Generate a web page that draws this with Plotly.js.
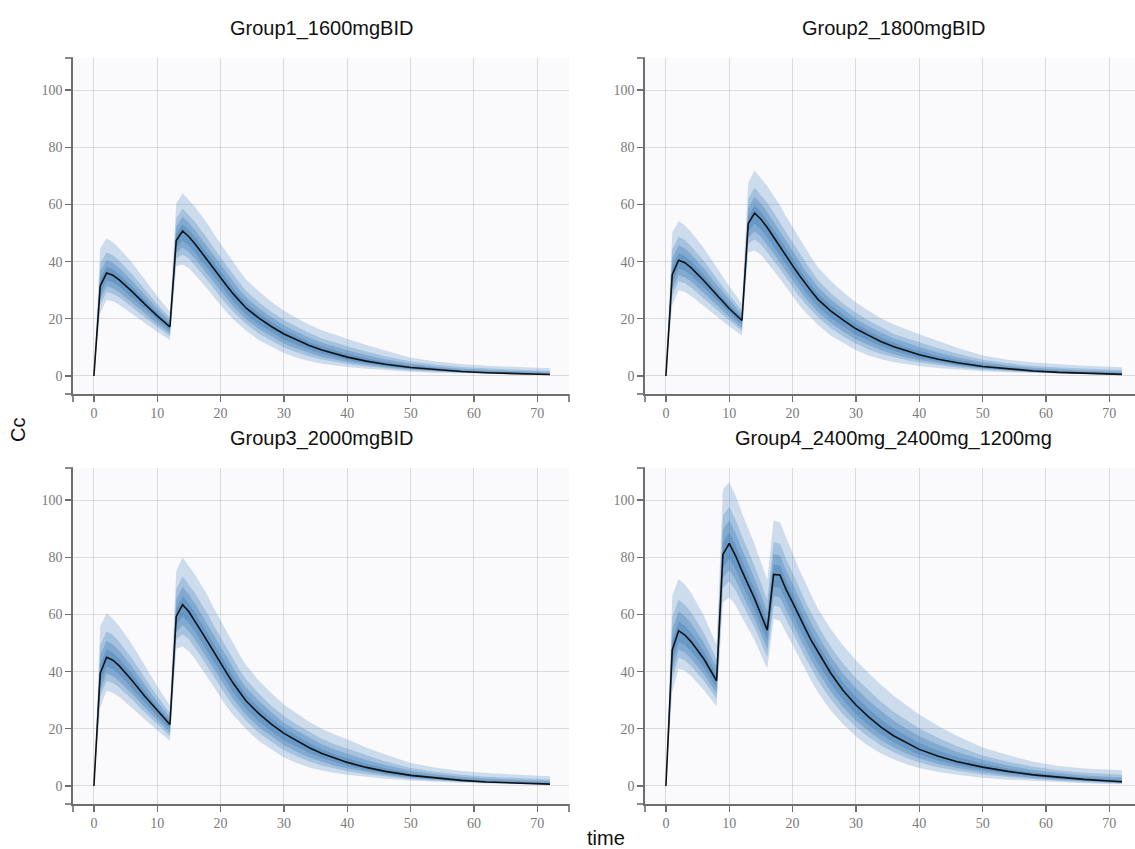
<!DOCTYPE html>
<html>
<head>
<meta charset="utf-8">
<script src="https://cdn.plot.ly/plotly-3.0.1.min.js"></script>
<style>
html,body{margin:0;padding:0;overflow:hidden;background:#fff;}
#chart{width:1142px;height:849px;}
</style>
</head>
<body>
<div id="chart"></div>
<script>
// ---- titles / ticks ----
const panelTitles = ["Group1_1600mgBID", "Group2_1800mgBID", "Group3_2000mgBID", "Group4_2400mg_2400mg_1200mg"];
const xTitle = "time";
const yTitle = "Cc";
const xTicks = [0, 10, 20, 30, 40, 50, 60, 70];
const yTicks = [0, 20, 40, 60, 80, 100];

// ---- time grids ----
const time123 = [0, 1, 2, 3, 4, 6, 8, 10, 12, 13, 14, 15, 16, 17, 18, 19, 20, 21, 22, 23, 24, 26, 28, 30, 32, 34, 36, 38, 40, 43, 46, 50, 54, 58, 62, 66, 70, 72];
const time4 = [0, 1, 2, 3, 4, 6, 8, 9, 10, 11, 12, 13, 14, 16, 17, 18, 19, 20, 21, 22, 23, 24, 25, 26, 28, 30, 32, 34, 36, 38, 40, 43, 46, 50, 54, 58, 62, 66, 70, 72];

// ---- Group 1 (lo4 = outermost lower band edge ... hi4 = outermost upper) ----
const g1_lo4 = [0, 22, 26.6, 26.1, 24.9, 21.9, 18.6, 15.5, 12.6, 38.4, 39.0, 37.7, 35.4, 32.8, 30.2, 27.5, 24.7, 22.1, 19.8, 17.8, 15.9, 12.6, 10.2, 8.0, 6.4, 5.2, 4.3, 3.6, 3.1, 2.5, 2.0, 1.5, 1.15, 0.9, 0.7, 0.52, 0.38, 0.32];
const g1_lo3 = [0, 24.9, 29.4, 28.8, 27.5, 24.2, 20.6, 17.2, 14.0, 41.1, 42.5, 41.0, 38.6, 35.9, 33.2, 30.4, 27.6, 24.9, 22.5, 20.3, 18.3, 14.9, 12.3, 10.0, 8.3, 6.85, 5.75, 4.85, 4.15, 3.3, 2.63, 1.94, 1.45, 1.10, 0.83, 0.61, 0.45, 0.38];
const g1_lo2 = [0, 26.8, 31.4, 30.7, 29.3, 25.8, 22.0, 18.3, 14.9, 43.0, 45.0, 43.3, 40.9, 38.1, 35.3, 32.4, 29.6, 26.9, 24.3, 22.1, 19.9, 16.5, 13.8, 11.4, 9.6, 8.0, 6.75, 5.7, 4.9, 3.9, 3.07, 2.25, 1.67, 1.24, 0.92, 0.68, 0.49, 0.42];
const g1_lo1 = [0, 28.8, 33.4, 32.7, 31.2, 27.4, 23.4, 19.5, 15.9, 44.9, 47.4, 45.6, 43.1, 40.2, 37.4, 34.5, 31.6, 28.9, 26.2, 23.8, 21.6, 18.1, 15.3, 12.8, 10.9, 9.2, 7.8, 6.6, 5.6, 4.45, 3.5, 2.56, 1.88, 1.38, 1.01, 0.74, 0.54, 0.46];
const g1_med = [0, 31.5, 36, 35.2, 33.6, 29.6, 25.2, 21.0, 17.2, 47.4, 50.7, 48.7, 46.1, 43.1, 40.2, 37.2, 34.3, 31.5, 28.7, 26.2, 23.8, 20.3, 17.3, 14.7, 12.6, 10.7, 9.1, 7.75, 6.6, 5.2, 4.09, 2.97, 2.16, 1.56, 1.13, 0.83, 0.6, 0.51];
const g1_hi1 = [0, 33.9, 38.2, 37.3, 35.6, 31.4, 26.7, 22.2, 18.2, 49.7, 53.1, 51.0, 48.4, 45.4, 42.5, 39.4, 36.5, 33.6, 30.7, 28.1, 25.6, 22.0, 18.9, 16.2, 14.0, 12.0, 10.3, 8.9, 7.75, 6.2, 4.94, 3.59, 2.69, 2.04, 1.57, 1.26, 1.0, 0.90];
const g1_hi2 = [0, 36.5, 40.6, 39.6, 37.8, 33.4, 28.4, 23.6, 19.2, 52.2, 55.7, 53.5, 50.9, 47.9, 45.0, 41.8, 38.8, 35.9, 32.8, 30.1, 27.6, 23.8, 20.6, 17.7, 15.5, 13.4, 11.6, 10.2, 9.0, 7.3, 5.85, 4.26, 3.26, 2.55, 2.06, 1.72, 1.44, 1.33];
const g1_hi3 = [0, 39.4, 43.3, 42.2, 40.3, 35.7, 30.4, 25.1, 20.4, 55.1, 58.6, 56.3, 53.8, 50.8, 47.9, 44.6, 41.5, 38.5, 35.2, 32.5, 29.8, 25.9, 22.5, 19.6, 17.2, 15.0, 13.1, 11.7, 10.4, 8.6, 6.9, 5.03, 3.92, 3.14, 2.61, 2.25, 1.95, 1.82];
const g1_hi4 = [0, 44.7, 48.2, 46.8, 44.7, 39.7, 33.8, 27.9, 22.5, 60.2, 63.9, 61.4, 59.0, 56.0, 53.1, 49.5, 46.3, 43.2, 39.6, 36.7, 33.8, 29.6, 26.0, 22.8, 20.3, 17.9, 16.0, 14.4, 13.0, 10.8, 8.8, 6.4, 5.1, 4.2, 3.6, 3.2, 2.85, 2.7];

// ---- Group 2 ----
const g2_lo4 = [0, 24.8, 29.9, 29.4, 28.0, 24.6, 20.9, 17.4, 14.2, 43.2, 43.9, 42.4, 39.8, 36.9, 34.0, 30.9, 27.8, 24.9, 22.3, 20.0, 17.9, 14.2, 11.5, 9.0, 7.2, 5.85, 4.84, 4.05, 3.49, 2.81, 2.25, 1.69, 1.29, 1.01, 0.79, 0.59, 0.43, 0.36];
const g2_lo3 = [0, 28.0, 33.1, 32.4, 30.9, 27.2, 23.2, 19.4, 15.8, 46.2, 47.8, 46.1, 43.4, 40.4, 37.4, 34.2, 31.1, 28.0, 25.3, 22.8, 20.6, 16.8, 13.8, 11.3, 9.3, 7.7, 6.5, 5.5, 4.7, 3.7, 2.96, 2.18, 1.63, 1.24, 0.93, 0.69, 0.51, 0.43];
const g2_lo2 = [0, 30.2, 35.3, 34.5, 33.0, 29.0, 24.8, 20.6, 16.8, 48.4, 50.6, 48.7, 46.0, 42.9, 39.7, 36.5, 33.3, 30.3, 27.3, 24.9, 22.4, 18.6, 15.5, 12.8, 10.8, 9.0, 7.6, 6.4, 5.5, 4.4, 3.45, 2.53, 1.88, 1.4, 1.04, 0.77, 0.55, 0.47];
const g2_lo1 = [0, 32.4, 37.6, 36.8, 35.1, 30.8, 26.3, 21.9, 17.9, 50.5, 53.3, 51.3, 48.5, 45.2, 42.1, 38.8, 35.6, 32.5, 29.5, 26.8, 24.3, 20.4, 17.2, 14.4, 12.3, 10.4, 8.8, 7.4, 6.3, 5.0, 3.94, 2.88, 2.12, 1.55, 1.14, 0.83, 0.61, 0.52];
const g2_med = [0, 35.4, 40.5, 39.6, 37.8, 33.3, 28.4, 23.6, 19.4, 53.3, 57.0, 54.8, 51.9, 48.5, 45.2, 41.9, 38.6, 35.4, 32.3, 29.5, 26.8, 22.8, 19.5, 16.5, 14.2, 12.0, 10.2, 8.7, 7.4, 5.85, 4.6, 3.34, 2.43, 1.76, 1.27, 0.93, 0.68, 0.57];
const g2_hi1 = [0, 38.1, 43.0, 42.0, 40.1, 35.3, 30.0, 25.0, 20.5, 55.9, 59.7, 57.4, 54.5, 51.1, 47.8, 44.3, 41.1, 37.8, 34.5, 31.6, 28.8, 24.8, 21.3, 18.2, 15.8, 13.5, 11.6, 10.0, 8.72, 6.98, 5.56, 4.04, 3.03, 2.3, 1.77, 1.42, 1.13, 1.01];
const g2_hi2 = [0, 41.1, 45.7, 44.6, 42.5, 37.6, 32.0, 26.6, 21.6, 58.7, 62.7, 60.2, 57.3, 53.9, 50.6, 47.0, 43.7, 40.4, 36.9, 33.9, 31.1, 26.8, 23.2, 19.9, 17.4, 15.1, 13.1, 11.5, 10.1, 8.2, 6.58, 4.79, 3.67, 2.87, 2.32, 1.94, 1.62, 1.5];
const g2_hi3 = [0, 44.3, 48.7, 47.5, 45.3, 40.2, 34.2, 28.2, 23.0, 62.0, 65.9, 63.3, 60.5, 57.2, 53.9, 50.2, 46.7, 43.3, 39.6, 36.6, 33.5, 29.1, 25.3, 22.1, 19.4, 16.9, 14.7, 13.2, 11.7, 9.7, 7.8, 5.66, 4.41, 3.53, 2.94, 2.53, 2.19, 2.05];
const g2_hi4 = [0, 50.3, 54.2, 52.7, 50.3, 44.7, 38.0, 31.4, 25.3, 67.7, 71.9, 69.1, 66.4, 63.0, 59.7, 55.7, 52.1, 48.6, 44.6, 41.3, 38.0, 33.3, 29.3, 25.7, 22.8, 20.1, 18.0, 16.2, 14.6, 12.2, 9.9, 7.2, 5.7, 4.7, 4.05, 3.6, 3.2, 3.04];

// ---- Group 3 ----
const g3_lo4 = [0, 27.5, 33.3, 32.6, 31.1, 27.4, 23.3, 19.4, 15.8, 48.0, 48.8, 47.1, 44.3, 41.0, 37.8, 34.4, 30.9, 27.6, 24.8, 22.3, 19.9, 15.8, 12.8, 10.0, 8.0, 6.5, 5.4, 4.5, 3.9, 3.1, 2.5, 1.9, 1.44, 1.13, 0.88, 0.65, 0.48, 0.4];
const g3_lo3 = [0, 31.1, 36.8, 36.0, 34.4, 30.3, 25.8, 21.5, 17.5, 51.4, 53.1, 51.3, 48.3, 44.9, 41.5, 38.0, 34.5, 31.1, 28.1, 25.4, 22.9, 18.6, 15.4, 12.5, 10.4, 8.56, 7.19, 6.06, 5.19, 4.13, 3.29, 2.43, 1.81, 1.38, 1.04, 0.76, 0.56, 0.48];
const g3_lo2 = [0, 33.5, 39.3, 38.4, 36.6, 32.3, 27.5, 22.9, 18.6, 53.8, 56.3, 54.1, 51.1, 47.6, 44.1, 40.5, 37.0, 33.6, 30.4, 27.6, 24.9, 20.6, 17.3, 14.3, 12.0, 10.0, 8.44, 7.1, 6.1, 4.9, 3.84, 2.81, 2.09, 1.55, 1.15, 0.85, 0.61, 0.53];
const g3_lo1 = [0, 36.0, 41.8, 40.9, 39.0, 34.3, 29.3, 24.4, 19.9, 56.1, 59.3, 57.0, 53.9, 50.3, 46.8, 43.1, 39.5, 36.1, 32.8, 29.8, 27.0, 22.6, 19.1, 16.0, 13.6, 11.5, 9.75, 8.25, 7.0, 5.56, 4.38, 3.2, 2.35, 1.73, 1.26, 0.93, 0.68, 0.58];
const g3_med = [0, 39.4, 45.0, 44.0, 42.0, 37.0, 31.5, 26.3, 21.5, 59.3, 63.4, 60.9, 57.6, 53.9, 50.3, 46.5, 42.9, 39.4, 35.9, 32.8, 29.8, 25.4, 21.6, 18.4, 15.8, 13.4, 11.4, 9.7, 8.25, 6.5, 5.1, 3.7, 2.7, 1.95, 1.41, 1.04, 0.75, 0.64];
const g3_hi1 = [0, 42.4, 47.8, 46.6, 44.5, 39.3, 33.4, 27.8, 22.8, 62.1, 66.4, 63.8, 60.5, 56.8, 53.1, 49.3, 45.6, 42.0, 38.4, 35.1, 32.0, 27.5, 23.6, 20.3, 17.5, 15.0, 12.9, 11.1, 9.7, 7.75, 6.18, 4.49, 3.36, 2.55, 1.96, 1.58, 1.25, 1.13];
const g3_hi2 = [0, 45.6, 50.8, 49.5, 47.3, 41.8, 35.5, 29.5, 24.0, 65.3, 69.6, 66.9, 63.6, 59.9, 56.3, 52.3, 48.5, 44.9, 41.0, 37.6, 34.5, 29.8, 25.8, 22.1, 19.4, 16.8, 14.5, 12.8, 11.3, 9.1, 7.31, 5.33, 4.08, 3.19, 2.58, 2.15, 1.8, 1.66];
const g3_hi3 = [0, 49.3, 54.1, 52.8, 50.4, 44.6, 38.0, 31.4, 25.5, 68.9, 73.3, 70.4, 67.3, 63.5, 59.9, 55.8, 51.9, 48.1, 44.0, 40.6, 37.3, 32.4, 28.1, 24.5, 21.5, 18.8, 16.4, 14.6, 13.0, 10.8, 8.6, 6.29, 4.9, 3.93, 3.26, 2.81, 2.44, 2.28];
const g3_hi4 = [0, 55.9, 60.3, 58.5, 55.9, 49.6, 42.3, 34.9, 28.1, 75.3, 79.9, 76.8, 73.8, 70.0, 66.4, 61.9, 57.9, 54.0, 49.5, 45.9, 42.3, 37.0, 32.5, 28.5, 25.4, 22.4, 20.0, 18.0, 16.3, 13.5, 11.0, 8.0, 6.4, 5.25, 4.5, 4.0, 3.56, 3.38];

// ---- Group 4 ----
const g4_lo4 = [0, 33, 40.9, 40.3, 38.4, 33.6, 27.8, 64.2, 66, 63.2, 59, 55, 51, 41, 58.4, 57.8, 53.5, 49.5, 45, 40.5, 36.5, 32.8, 29.5, 26.5, 21.5, 17.3, 14, 11.4, 9.3, 7.6, 6.3, 4.9, 3.9, 2.9, 2.2, 1.7, 1.3, 0.95, 0.72, 0.62];
const g4_lo3 = [0, 37.4, 44.9, 44.0, 42.0, 36.8, 30.5, 69.2, 71.6, 68.4, 63.9, 59.6, 55.4, 45.1, 63.1, 62.6, 58.0, 53.9, 49.3, 44.9, 40.8, 37.0, 33.6, 30.4, 25.0, 20.6, 17.1, 14.1, 11.8, 9.8, 8.25, 6.55, 5.3, 4.0, 3.1, 2.36, 1.8, 1.36, 1.03, 0.88];
const g4_lo2 = [0, 40.4, 47.7, 46.7, 44.5, 39.1, 32.4, 72.8, 75.6, 72.0, 67.3, 62.8, 58.4, 47.9, 66.4, 66.0, 61.2, 57.0, 52.3, 47.9, 43.7, 40.0, 36.4, 33.1, 27.5, 22.9, 19.2, 16.0, 13.5, 11.4, 9.6, 7.7, 6.25, 4.8, 3.7, 2.8, 2.2, 1.64, 1.25, 1.07];
const g4_lo1 = [0, 43.4, 50.5, 49.3, 47.0, 41.4, 34.3, 76.3, 79.5, 75.7, 70.7, 66.0, 61.4, 50.7, 69.6, 69.3, 64.4, 60.1, 55.3, 50.9, 46.7, 43.0, 39.3, 35.9, 30.0, 25.2, 21.3, 18.0, 15.2, 12.9, 11.0, 8.9, 7.2, 5.6, 4.3, 3.3, 2.5, 1.9, 1.46, 1.25];
const g4_med = [0, 47.5, 54.3, 52.8, 50.4, 44.4, 36.8, 81, 84.8, 80.5, 75.2, 70.3, 65.5, 54.5, 74, 73.8, 68.6, 64.2, 59.3, 55.0, 50.7, 46.9, 43.1, 39.5, 33.3, 28.3, 24.2, 20.5, 17.5, 15.0, 12.8, 10.4, 8.5, 6.6, 5.1, 3.9, 3.0, 2.3, 1.75, 1.5];
const g4_hi1 = [0, 50.9, 57.6, 56.0, 53.5, 47.1, 39.1, 85.1, 88.7, 84.3, 78.9, 73.8, 68.9, 57.7, 77.4, 77.1, 71.8, 67.3, 62.3, 57.9, 53.5, 49.6, 45.9, 42.3, 36.1, 31.1, 27.0, 23.2, 20.0, 17.4, 15.0, 12.3, 10.1, 7.85, 6.1, 4.7, 3.7, 3.0, 2.44, 2.22];
const g4_hi2 = [0, 54.6, 61.1, 59.4, 56.8, 50.1, 41.5, 89.6, 92.8, 88.4, 82.8, 77.7, 72.6, 61.1, 81.1, 80.7, 75.3, 70.7, 65.6, 61.0, 56.6, 52.6, 48.9, 45.3, 39.2, 34.2, 29.9, 26.1, 22.8, 20.0, 17.4, 14.4, 11.9, 9.2, 7.2, 5.6, 4.5, 3.7, 3.19, 3.0];
const g4_hi3 = [0, 58.9, 65.2, 63.4, 60.7, 53.5, 44.3, 94.7, 97.6, 93.1, 87.4, 82.1, 76.9, 65.0, 85.3, 84.8, 79.3, 74.6, 69.3, 64.6, 60.2, 56.0, 52.3, 48.8, 42.7, 37.7, 33.4, 29.4, 25.9, 22.9, 20.1, 16.8, 13.9, 10.7, 8.5, 6.7, 5.4, 4.6, 4.06, 3.9];
const g4_hi4 = [0, 66.5, 72.4, 70.5, 67.5, 59.5, 49.3, 103.8, 106.2, 101.5, 95.5, 90, 84.5, 72, 92.8, 92.2, 86.5, 81.5, 76, 71, 66.5, 62, 58.5, 55, 49, 44, 39.5, 35.3, 31.5, 28.2, 25, 21, 17.5, 13.5, 10.8, 8.5, 7.0, 6.1, 5.6, 5.5];

// ---- assemble ----
const groups = [
  {t: time123, lo: [g1_lo4, g1_lo3, g1_lo2, g1_lo1], hi: [g1_hi4, g1_hi3, g1_hi2, g1_hi1], med: g1_med},
  {t: time123, lo: [g2_lo4, g2_lo3, g2_lo2, g2_lo1], hi: [g2_hi4, g2_hi3, g2_hi2, g2_hi1], med: g2_med},
  {t: time123, lo: [g3_lo4, g3_lo3, g3_lo2, g3_lo1], hi: [g3_hi4, g3_hi3, g3_hi2, g3_hi1], med: g3_med},
  {t: time4,   lo: [g4_lo4, g4_lo3, g4_lo2, g4_lo1], hi: [g4_hi4, g4_hi3, g4_hi2, g4_hi1], med: g4_med}
];

const W = 1142, H = 849;
// panel pixel boxes [left, right, top, bottom]
const boxes = [[73, 569, 58, 394], [645, 1141, 58, 394], [73, 569, 468, 804], [645, 1141, 468, 804]];
const bandColors = ['rgba(44,112,176,0.22)', 'rgba(44,112,176,0.25)', 'rgba(44,112,176,0.28)', 'rgba(44,112,176,0.30)'];
const axisColor = '#6e6e6e';
const traces = [];
groups.forEach((g, i) => {
  const xa = i === 0 ? 'x' : 'x' + (i + 1);
  const ya = i === 0 ? 'y' : 'y' + (i + 1);
  for (let k = 0; k < 4; k++) {
    traces.push({x: g.t, y: g.lo[k], xaxis: xa, yaxis: ya, type: 'scatter', mode: 'lines',
      line: {width: 0, color: 'rgba(0,0,0,0)'}, showlegend: false, hoverinfo: 'skip'});
    traces.push({x: g.t, y: g.hi[k], xaxis: xa, yaxis: ya, type: 'scatter', mode: 'lines',
      line: {width: 0, color: 'rgba(0,0,0,0)'}, fill: 'tonexty', fillcolor: bandColors[k],
      showlegend: false, hoverinfo: 'skip'});
  }
  traces.push({x: g.t, y: g.med, xaxis: xa, yaxis: ya, type: 'scatter', mode: 'lines',
    line: {width: 1.6, color: '#111111'}, showlegend: false});
});

const tickFont = {family: 'Liberation Serif, Times New Roman, serif', size: 14, color: '#7a7a7a'};
const titleFont = {family: 'Liberation Sans, Arial, sans-serif', size: 20, color: '#111111'};
const layout = {
  width: W, height: H,
  margin: {l: 0, r: 0, t: 0, b: 0},
  paper_bgcolor: '#ffffff',
  plot_bgcolor: '#fafafd',
  showlegend: false,
  annotations: [],
  shapes: []
};
boxes.forEach((b, i) => {
  const sx = i === 0 ? '' : String(i + 1);
  const common = {
    ticks: 'outside', ticklen: 6, tickwidth: 1.3, tickcolor: axisColor,
    showline: true, linecolor: axisColor, linewidth: 1.6, showgrid: true, gridcolor: 'rgba(0,0,0,0.12)', gridwidth: 1,
    zeroline: false, tickfont: tickFont, fixedrange: true
  };
  layout['xaxis' + sx] = Object.assign({domain: [b[0] / W, b[1] / W], anchor: 'y' + sx, range: [-3.3, 75],
    tickvals: xTicks, ticktext: xTicks.map(String)}, common);
  layout['yaxis' + sx] = Object.assign({domain: [1 - b[3] / H, 1 - b[2] / H], anchor: 'x' + sx, range: [-6.3, 111.2],
    tickvals: yTicks, ticktext: yTicks.map(String)}, common);
  layout.annotations.push({
    text: panelTitles[i], xref: 'paper', yref: 'paper', x: (b[0] + b[1]) / 2 / W, y: 1 - (b[2] - 30) / H,
    xanchor: 'center', yanchor: 'middle', showarrow: false, font: titleFont
  });
  // axis end caps
  const cap = 8;
  const P = (px, py) => [px / W, 1 - py / H];
  const seg = (a, c) => ({type: 'line', xref: 'paper', yref: 'paper', x0: a[0], y0: a[1], x1: c[0], y1: c[1],
    line: {color: axisColor, width: 1.6}, layer: 'above'});
  layout.shapes.push(seg(P(b[0] - cap, b[2]), P(b[0], b[2])));
  layout.shapes.push(seg(P(b[0] - cap, b[3]), P(b[0], b[3])));
  layout.shapes.push(seg(P(b[0], b[3]), P(b[0], b[3] + cap)));
  layout.shapes.push(seg(P(b[1], b[3]), P(b[1], b[3] + cap)));
});
layout.annotations.push({text: yTitle, xref: 'paper', yref: 'paper', x: 18 / W, y: 1 - 430 / H, textangle: -90,
  xanchor: 'center', yanchor: 'middle', showarrow: false, font: titleFont});
layout.annotations.push({text: xTitle, xref: 'paper', yref: 'paper', x: 606 / W, y: 1 - 838 / H,
  xanchor: 'center', yanchor: 'middle', showarrow: false, font: titleFont});

Plotly.newPlot('chart', traces, layout, {staticPlot: true, displayModeBar: false});
</script>
</body>
</html>
